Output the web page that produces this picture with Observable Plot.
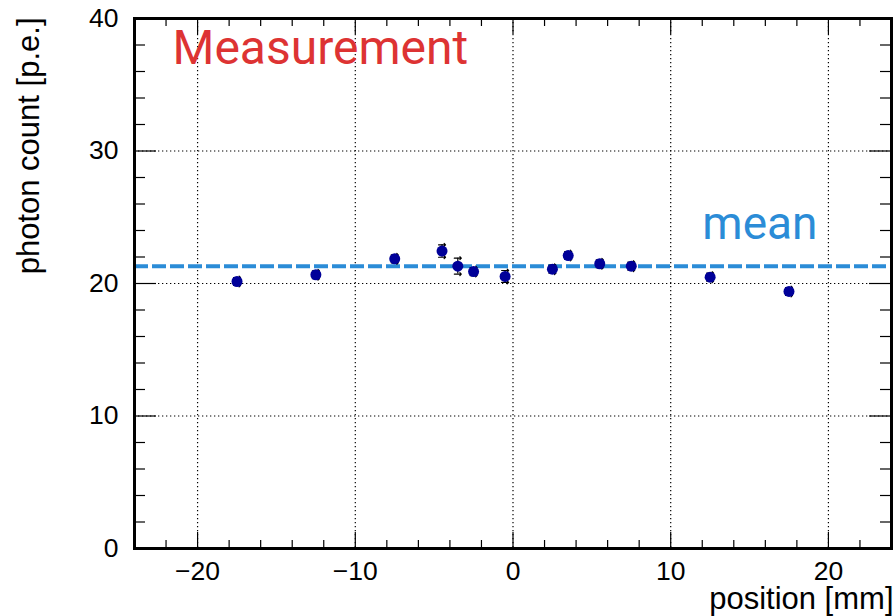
<!DOCTYPE html>
<html><head><meta charset="utf-8">
<script src="https://cdn.jsdelivr.net/npm/d3@7"></script>
<script src="https://cdn.jsdelivr.net/npm/@observablehq/plot@0.6"></script>
<style>body{margin:0;background:#fff} svg{display:block}</style>
</head><body><div id="chart"></div>
<script>
// Data
const positions = [-17.5, -12.5, -7.5, -4.5, -3.5, -2.5, -0.5, 2.5, 3.5, 5.5, 7.5, 12.5, 17.5];
const counts    = [20.15, 20.66, 21.86, 22.45, 21.31, 20.9, 20.53, 21.08, 22.11, 21.49, 21.31, 20.48, 19.4];
const errors    = [0.3, 0.3, 0.3, 0.47, 0.6, 0.3, 0.45, 0.3, 0.3, 0.3, 0.3, 0.3, 0.3];
const meanValue = 21.3;
const xDomain = [-24, 24];
const yDomain = [0, 40];
const xMajor = [-20, -10, 0, 10, 20];
const yMajor = [0, 10, 20, 30, 40];
const xMinor = [-22, -18, -16, -14, -12, -8, -6, -4, -2, 2, 4, 6, 8, 12, 14, 16, 18, 22];
const yMinor = [2, 4, 6, 8, 12, 14, 16, 18, 22, 24, 26, 28, 32, 34, 36, 38];
const titleX = "position [mm]";
const titleY = "photon count [p.e.]";
const labelMeasurement = "Measurement";
const labelMean = "mean";

const data = positions.map((x, i) => ({x, y: counts[i], e: errors[i]}));

const W = 894, H = 616, mL = 134, mR = 3, mT = 18, mB = 68;
const plotW = W - mL - mR, plotH = H - mT - mB;
const font = "'Liberation Sans', Arial, Helvetica, sans-serif";

const chart = Plot.plot({
  width: W, height: H,
  marginLeft: mL, marginRight: mR, marginTop: mT, marginBottom: mB,
  x: {domain: xDomain},
  y: {domain: yDomain},
  style: {fontFamily: font, background: "white", overflow: "visible", color: "black"},
  marks: [
    // dotted grid
    Plot.ruleX(xMajor, {x: d => d, stroke: "black", strokeWidth: 1.2, strokeDasharray: "1.3,2.7"}),
    Plot.ruleY(yMajor.filter(v => v > yDomain[0] && v < yDomain[1]), {y: d => d, stroke: "black", strokeWidth: 1.2, strokeDasharray: "1.3,2.7"}),
    // mean line
    Plot.ruleY([meanValue], {y: d => d, stroke: "#2b8cd7", strokeWidth: 4, strokeDasharray: "14,4"}),
    // error bars
    Plot.ruleX(data, {x: "x", y1: d => d.y - d.e, y2: d => d.y + d.e, stroke: "black", strokeWidth: 1.2}),
    Plot.vector(data, {x: "x", y: d => d.y + d.e, length: 7, rotate: 90, anchor: "middle", stroke: "black", strokeWidth: 1.2}),
    Plot.vector(data, {x: "x", y: d => d.y - d.e, length: 7, rotate: 90, anchor: "middle", stroke: "black", strokeWidth: 1.2}),
    // points
    Plot.dot(data, {x: "x", y: "y", r: 5.5, fill: "#000099", stroke: "none"}),
    // inward ticks: bottom / top
    Plot.tickX(xMajor, {x: d => d, insetTop: plotH - 16, stroke: "black", strokeWidth: 1.2}),
    Plot.tickX(xMinor, {x: d => d, insetTop: plotH - 8, stroke: "black", strokeWidth: 1.2}),
    Plot.tickX(xMajor, {x: d => d, insetBottom: plotH - 16, stroke: "black", strokeWidth: 1.2}),
    Plot.tickX(xMinor, {x: d => d, insetBottom: plotH - 8, stroke: "black", strokeWidth: 1.2}),
    // inward ticks: left / right
    Plot.tickY(yMajor, {y: d => d, insetRight: plotW - 22, stroke: "black", strokeWidth: 1.2}),
    Plot.tickY(yMinor, {y: d => d, insetRight: plotW - 11, stroke: "black", strokeWidth: 1.2}),
    Plot.tickY(yMajor, {y: d => d, insetLeft: plotW - 22, stroke: "black", strokeWidth: 1.2}),
    Plot.tickY(yMinor, {y: d => d, insetLeft: plotW - 11, stroke: "black", strokeWidth: 1.2}),
    // tick labels
    Plot.axisX({ticks: xMajor, tickSize: 0, tickPadding: 13, fontSize: 26.5, label: null}),
    Plot.axisY({ticks: yMajor, tickSize: 0, tickPadding: 16, fontSize: 26.5, label: null}),
    // frame
    Plot.frame({stroke: "black", strokeWidth: 3}),
    // axis titles
    Plot.text([titleX], {text: d => d, frameAnchor: "bottom-right", dx: 2, dy: 60, textAnchor: "end", lineAnchor: "bottom", fontSize: 31, fill: "black"}),
    Plot.text([titleY], {text: d => d, frameAnchor: "top-left", dx: -96, dy: -1, rotate: -90, textAnchor: "end", lineAnchor: "bottom", fontSize: 31, fill: "black"}),
    // annotations
    Plot.text([labelMeasurement], {text: d => d, frameAnchor: "top-left", dx: 38, dy: 45, textAnchor: "start", lineAnchor: "bottom", fontSize: 48, fontFamily: "Roboto", fill: "#dd3333"}),
    Plot.text([labelMean], {text: d => d, frameAnchor: "top-right", dx: -74, dy: 220, textAnchor: "end", lineAnchor: "bottom", fontSize: 46, fontFamily: "Roboto", fill: "#2b8cd7"})
  ]
});
document.getElementById("chart").appendChild(chart);
</script>
</body></html>
